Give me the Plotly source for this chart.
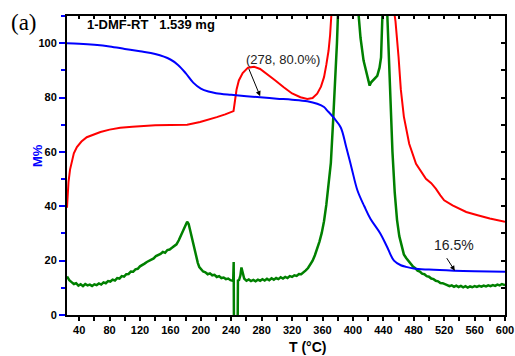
import plotly.graph_objects as go

# ---------------- data ----------------
tga_T = [24, 40, 60, 80, 100, 120, 140, 160, 170, 180, 190, 200, 210, 220, 240, 260, 278,
         300, 320, 340, 353, 362, 366, 375, 384, 391, 398, 406, 415, 423, 436, 445, 454,
         463, 470, 480, 500, 533, 560, 600]
tga_M = [100, 99.8, 99.4, 98.8, 97.9, 97.0, 96.0, 94.0, 92.0, 89.0, 85.5, 83.3, 82.2, 81.6,
         81.0, 80.5, 80.1, 79.6, 79.2, 78.6, 77.7, 76.5, 75.3, 72.5, 69.0, 62.0, 54.4, 45.8,
         40.0, 35.4, 30.0, 25.0, 20.0, 18.3, 17.7, 17.1, 16.7, 16.3, 16.1, 15.9]

red_T = [24, 25, 26, 28, 30, 33, 37, 43, 50, 60, 68, 80, 94, 110, 125, 140, 160, 182, 199,
         210, 221, 232, 243, 245, 247, 250, 255, 262, 270, 278, 287, 298, 309, 320, 331, 340,
         347, 353, 358, 362, 365, 368, 370, 372,
         None,
         454, 456, 460, 463, 467, 474, 483, 490, 496, 503, 509, 515, 520, 531, 549, 564, 580, 600]
red_V = [39.5, 45, 49, 53.5, 56.5, 59.5, 61.8, 63.8, 65.4, 66.5, 67.3, 68.2, 68.9, 69.3, 69.6,
         69.8, 69.9, 70.0, 71.0, 71.8, 72.8, 73.8, 75.0, 79.0, 83.0, 86.3, 89.0, 91.0, 91.3,
         90.5, 88.7, 86.3, 83.8, 81.5, 80.1, 79.5, 79.8, 81.4, 84.0, 87.5, 92.0, 97.3, 103, 112,
         None,
         112, 108, 95, 83, 73, 63, 55.6, 52.5, 50.1, 48.5, 46.5, 44.0, 42.2, 40.3, 37.9, 36.7,
         35.5, 34.3]

green_T = [24, 27, 30, 33, 36, 39, 42, 45, 48, 51, 54, 57, 60, 63, 66, 69, 72, 75, 78, 81, 84,
           87, 90, 93, 96, 99, 102, 105, 108, 111, 114, 117, 120, 123, 126, 129, 132, 135, 138,
           141, 144, 147, 150, 153, 156, 159, 162, 165, 168, 171, 174, 177, 180, 182, 184, 186,
           188, 190, 192, 194, 196, 198, 200, 203, 206, 209, 212, 215, 218, 221, 224, 227, 230,
           233, 236, 239, 242, 242.6, 243.2, 243.6, 248.3, 248.8, 250, 252, 253.4, 255, 257, 260,
           263, 266, 269, 272, 275, 278, 281, 284, 287, 290, 293, 296, 299, 302, 305, 308, 311,
           314, 317, 320, 323, 326, 329, 332, 335, 338, 341, 344, 347, 350, 353, 356, 359, 362,
           365, 368, 371, 374, 377, 379, 380.5,
           None,
           407, 410, 414, 418, 420, 422, 424, 426, 429, 432, 435, 437, 439,
           None,
           445, 447, 449, 452, 455, 458, 461, 464, 467, 470, 473, 476, 479, 482, 485, 488, 491,
           494, 497, 500, 503, 506, 509, 512, 515, 518, 521, 524, 527, 530, 533, 536, 539, 542,
           545, 548, 551, 554, 557, 560, 563, 566, 569, 572, 575, 578, 581, 584, 587, 590, 593,
           596, 599, 600]
green_V = [14.2, 12.8, 12.1, 11.4, 11.7, 10.8, 11.3, 10.6, 11.4, 10.9, 11.2, 10.7, 11.3, 11.0,
           11.6, 11.2, 12.0, 11.7, 12.5, 12.3, 13.0, 12.7, 13.6, 13.4, 14.3, 14.1, 15.0, 15.1,
           16.0, 15.9, 16.8, 17.0, 17.9, 18.3, 18.9, 19.5, 19.9, 20.6, 20.8, 21.7, 22.0, 22.5,
           23.2, 22.9, 23.9, 24.1, 24.7, 25.4, 26.0, 27.5, 29.5, 31.6, 33.4, 34.3, 33.5, 31.0,
           28.2, 25.5, 23.3, 21.0, 19.2, 17.6, 16.8, 16.0, 15.7, 15.0, 15.3, 14.6, 14.8, 14.0,
           14.3, 13.6, 13.8, 13.2, 13.4, 12.8, 12.6, 13.0, 19.5, -8, -8, 13.0, 12.6, 14.5, 17.5,
           15.5, 13.4, 12.6, 13.1, 12.5, 12.9, 12.4, 13.0, 12.6, 13.2, 12.7, 13.3, 12.8, 13.5,
           13.0, 13.6, 13.2, 13.9, 13.4, 14.0, 13.6, 14.3, 14.0, 14.6, 14.4, 15.1, 15.0, 15.6,
           16.4, 17.3, 18.6, 20.0, 22.0, 24.2, 27.0, 30.2, 34.5, 40.5, 48.0, 56.0, 71.6, 86.3,
           100, 112,
           None,
           112, 102, 93.6, 88.5, 86.0, 84.4, 85.6, 86.2, 87.0, 88.0, 91.0, 94.8, 112,
           None,
           112, 95, 79, 60, 45, 35, 29, 25.3, 22.3, 21.0, 19.8, 18.9, 17.8, 17.2, 16.3, 16.0,
           15.2, 15.0, 14.3, 14.1, 13.4, 13.2, 12.6, 12.4, 11.8, 11.7, 11.2, 11.0, 10.6, 10.9,
           10.4, 10.8, 10.3, 10.7, 10.2, 10.6, 10.1, 10.5, 10.2, 10.6, 10.3, 10.7, 10.4, 10.8,
           10.5, 10.9, 10.6, 11.0, 10.7, 11.2, 10.9, 11.4, 11.1, 11.3]

x_range = [24, 600]
y_range = [0, 110]

FONT = "Liberation Sans, Arial, sans-serif"

fig = go.Figure()
fig.add_trace(go.Scatter(x=green_T, y=green_V, mode="lines",
                         line=dict(color="#008000", width=2.5), connectgaps=False))
fig.add_trace(go.Scatter(x=red_T, y=red_V, mode="lines",
                         line=dict(color="#FF0000", width=2), connectgaps=False))
fig.add_trace(go.Scatter(x=tga_T, y=tga_M, mode="lines", line_shape="spline",
                         line=dict(color="#0000FF", width=2)))
# dummy trace for the mirrored (top / right) axes
fig.add_trace(go.Scatter(x=[None], y=[None], xaxis="x2", yaxis="y2", showlegend=False))

fig.update_layout(
    width=515, height=356,
    margin=dict(l=67, r=10, t=16, b=41, autoexpand=False),
    paper_bgcolor="white", plot_bgcolor="white",
    showlegend=False,
    font=dict(family=FONT, color="black"),
    xaxis=dict(range=x_range, showgrid=False, zeroline=False, automargin=False,
               showline=True, linecolor="black", linewidth=2, mirror=True,
               ticks="outside", ticklen=4, tickwidth=1.5, tickcolor="black",
               tick0=40, dtick=40,
               minor=dict(dtick=20, ticks="outside", ticklen=4, tickwidth=1.5, tickcolor="black"),
               tickfont=dict(size=11, weight="bold", family=FONT)),
    yaxis=dict(range=y_range, showgrid=False, zeroline=False, automargin=False,
               showline=True, linecolor="black", linewidth=2, mirror=True,
               ticks="outside", ticklen=6, tickwidth=2, tickcolor="#0000FF",
               tick0=0, dtick=20,
               minor=dict(dtick=10, ticks="outside", ticklen=4, tickwidth=2, tickcolor="#0000FF"),
               tickfont=dict(size=11, weight="bold", family=FONT)),
    xaxis2=dict(range=x_range, overlaying="x", side="top", anchor="y2", automargin=False,
                showgrid=False, zeroline=False, showline=False,
                ticks="inside", ticklen=3, tickwidth=1.5, tickcolor="black",
                tick0=40, dtick=20, showticklabels=False),
    yaxis2=dict(range=y_range, overlaying="y", side="right", anchor="x2", automargin=False,
                showgrid=False, zeroline=False, showline=False,
                ticks="inside", ticklen=4, tickwidth=1.5, tickcolor="black",
                tick0=0, dtick=10, showticklabels=False),
)

annotations = [
    dict(text="(a)", xref="paper", yref="paper", x=-0.098, y=0.977, showarrow=False,
         xanchor="center", yanchor="middle",
         font=dict(family="Liberation Serif, Times New Roman, serif", size=23, color="black")),
    dict(text="1-DMF-RT   1.539 mg", xref="paper", yref="paper", x=0.041, y=0.970,
         xanchor="left", yanchor="middle", showarrow=False,
         font=dict(family=FONT, size=13, weight="bold", color="black")),
    dict(text="M%", xref="paper", yref="paper", x=-0.0685, y=0.535, textangle=-90,
         xanchor="center", yanchor="middle",
         showarrow=False, font=dict(family=FONT, size=13, weight="bold", color="#0000FF")),
    dict(text="T (°C)", xref="paper", yref="paper", x=0.548, y=-0.107, showarrow=False,
         xanchor="center", yanchor="middle",
         font=dict(family=FONT, size=14, weight="bold", color="black")),
    # label texts
    dict(text="(278, 80.0%)", x=308.5, y=94.0, xref="x", yref="y", showarrow=False,
         xanchor="center", yanchor="middle",
         font=dict(family=FONT, size=13, color="#222222")),
    dict(text="16.5%", x=533, y=25.6, xref="x", yref="y", showarrow=False,
         xanchor="center", yanchor="middle",
         font=dict(family=FONT, size=14, color="#222222")),
    # arrows
    dict(text="", x=278, y=80.5, xref="x", yref="y", showarrow=True, ax=-12, ay=-29,
         arrowhead=2, arrowsize=1, arrowwidth=1, arrowcolor="black"),
    dict(text="", x=534, y=16.3, xref="x", yref="y", showarrow=True, ax=-9, ay=-14,
         arrowhead=2, arrowsize=1, arrowwidth=1, arrowcolor="black"),
]
fig.update_layout(annotations=annotations)

fig.write_html("out.html")
